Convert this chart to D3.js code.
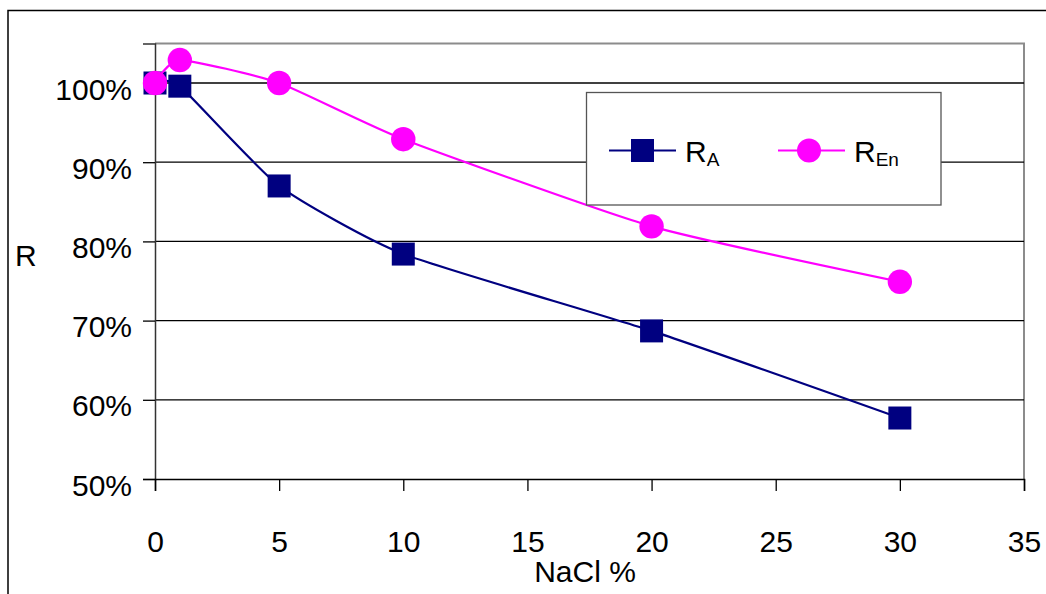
<!DOCTYPE html>
<html>
<head>
<meta charset="utf-8">
<script src="https://cdn.jsdelivr.net/npm/d3@7"></script>
<style>
  html, body { margin: 0; padding: 0; background: #fff; }
  svg { display: block; }
  text { font-family: "Liberation Sans", Arial, sans-serif; fill: #000; }
</style>
</head>
<body>
<svg id="chart" width="1046" height="594"></svg>
<script>
// NaCl concentration (%) and the two retention ratios
const nacl = [0, 1, 5, 10, 20, 30];
const rA   = [1.00, 0.996, 0.870, 0.784, 0.687, 0.577];
const rEn  = [1.00, 1.029, 1.000, 0.929, 0.819, 0.749];

const xTicks = [0, 5, 10, 15, 20, 25, 30, 35];
const yTicks = [0.5, 0.6, 0.7, 0.8, 0.9, 1.0];

const seriesNames = ["A", "En"];
const colors = ["#000080", "#ff00ff"];

const svg = d3.select("#chart");

const x = d3.scaleLinear().domain([0, 35]).range([155, 1024]);
const y = d3.scaleLinear().domain([0.5, 1.05]).range([479, 43.4]);

// outer chart frame (runs off the right and bottom edges)
svg.append("path")
  .attr("d", "M8,1060 L8,10.5 L1060,10.5")
  .attr("fill", "none").attr("stroke", "#000").attr("stroke-width", 1.5);

// plot frame: top and right in grey
svg.append("path")
  .attr("d", `M${x(0)},${y(1.05)} L${x(35)},${y(1.05)} L${x(35)},${y(0.5)}`)
  .attr("fill", "none").attr("stroke", "#8c8c8c").attr("stroke-width", 2);

// horizontal gridlines
svg.append("g").selectAll("line")
  .data(yTicks.filter(d => d > 0.5))
  .join("line")
  .attr("x1", x(0)).attr("x2", x(35))
  .attr("y1", d => y(d)).attr("y2", d => y(d))
  .attr("stroke", "#000").attr("stroke-width", 1.3);

// y axis
const yAxis = d3.axisLeft(y).tickValues(yTicks).tickFormat(d3.format(".0%"))
  .tickSize(12).tickPadding(11);
const gy = svg.append("g").attr("transform", `translate(${x(0)},0)`).call(yAxis);
gy.select(".domain").attr("stroke", "#333").attr("stroke-width", 1.5);
gy.selectAll(".tick line").attr("stroke", "#000").attr("stroke-width", 1.3);
gy.selectAll(".tick text")
  .attr("font-size", 30).attr("fill", "#000")
  .attr("font-family", "Liberation Sans, Arial, sans-serif")
  .attr("dy", "0.85em").attr("y", -9.5);

// x axis
const xAxis = d3.axisBottom(x).tickValues(xTicks).tickFormat(d3.format("d"))
  .tickSize(12).tickPadding(40);
const gx = svg.append("g").attr("transform", `translate(0,${y(0.5)})`).call(xAxis);
gx.select(".domain").attr("stroke", "#000").attr("stroke-width", 1.5);
gx.selectAll(".tick line").attr("stroke", "#000").attr("stroke-width", 1.3);
gx.selectAll(".tick text")
  .attr("font-size", 30).attr("fill", "#000")
  .attr("font-family", "Liberation Sans, Arial, sans-serif");

// axis titles
svg.append("text").attr("x", 15).attr("y", 266)
  .attr("font-size", 30).text("R");
svg.append("text").attr("x", 585).attr("y", 582)
  .attr("font-size", 30).attr("text-anchor", "middle").text("NaCl %");

// gently smoothed series lines and markers
const line = d3.line()
  .x((d, i) => x(nacl[i]))
  .y(d => y(d))
  .curve(d3.curveCardinal.tension(0.45));

function drawSeries(values, color, shape) {
  const g = svg.append("g");
  g.append("path")
    .attr("d", line(values))
    .attr("fill", "none").attr("stroke", color).attr("stroke-width", 2.2);
  if (shape === "square") {
    g.selectAll("rect").data(values).join("rect")
      .attr("x", (d, i) => x(nacl[i]) - 11.5)
      .attr("y", d => y(d) - 11.5)
      .attr("width", 23).attr("height", 23)
      .attr("fill", color);
  } else {
    g.selectAll("circle").data(values).join("circle")
      .attr("cx", (d, i) => x(nacl[i]))
      .attr("cy", d => y(d))
      .attr("r", 12.2)
      .attr("fill", color);
  }
}
drawSeries(rA, colors[0], "square");
drawSeries(rEn, colors[1], "circle");

// legend
const lg = svg.append("g");
lg.append("rect")
  .attr("x", 586.5).attr("y", 92.5).attr("width", 354.5).attr("height", 112.5)
  .attr("fill", "#fff").attr("stroke", "#555").attr("stroke-width", 1.3);

const legendItems = [
  { name: seriesNames[0], color: colors[0], shape: "square", x0: 609 },
  { name: seriesNames[1], color: colors[1], shape: "circle", x0: 778 }
];
const ly = 150.5;
legendItems.forEach(it => {
  lg.append("line")
    .attr("x1", it.x0).attr("x2", it.x0 + 67)
    .attr("y1", ly).attr("y2", ly)
    .attr("stroke", it.color).attr("stroke-width", 2.2);
  if (it.shape === "square") {
    lg.append("rect")
      .attr("x", it.x0 + 33.5 - 11.5).attr("y", ly - 11.5)
      .attr("width", 23).attr("height", 23).attr("fill", it.color);
  } else {
    lg.append("circle")
      .attr("cx", it.x0 + 31).attr("cy", ly).attr("r", 12)
      .attr("fill", it.color);
  }
  const t = lg.append("text")
    .attr("x", it.x0 + 76).attr("y", ly + 11.5)
    .attr("font-size", 30);
  t.append("tspan").text("R");
  t.append("tspan").attr("font-size", 19).attr("dy", 4).text(it.name);
});
</script>
</body>
</html>
